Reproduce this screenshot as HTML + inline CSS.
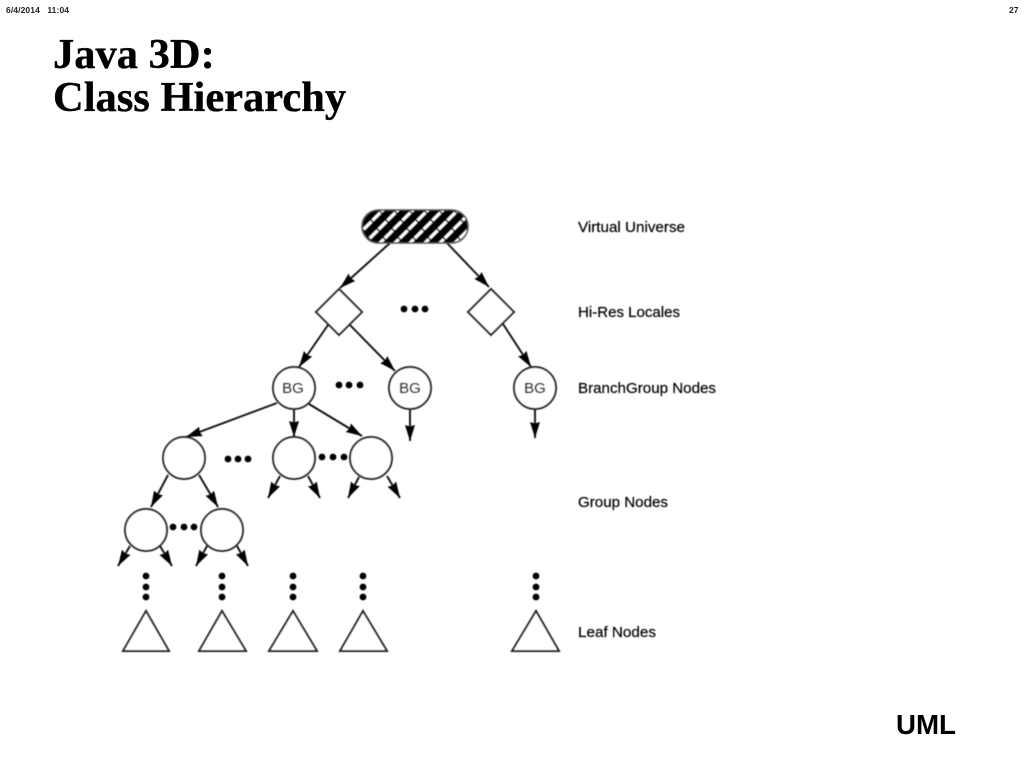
<!DOCTYPE html>
<html>
<head>
<meta charset="utf-8">
<title>Java 3D: Class Hierarchy</title>
<style>
html,body{margin:0;padding:0;background:#fff;width:1024px;height:768px;overflow:hidden}
svg{display:block}
.sans{font-family:"Liberation Sans",Arial,sans-serif}
.serif{font-family:"Liberation Serif","Times New Roman",serif}
.label{font-size:15px;fill:#000;stroke:#000;stroke-width:.2}
.bg{font-size:15px;fill:#000;stroke:#000;stroke-width:.2;text-anchor:middle}
.arrow line{stroke:#111;stroke-width:1.9;marker-end:url(#ah)}
.node{fill:#fff;stroke:#222;stroke-width:2}
.title{stroke:#000;stroke-width:.35}
#diagram{filter:url(#soft)}
</style>
</head>
<body>
<svg width="1024" height="768" viewBox="0 0 1024 768" xmlns="http://www.w3.org/2000/svg">
<defs>
<marker id="ah" markerUnits="userSpaceOnUse" markerWidth="18" markerHeight="14" refX="16" refY="5.5" orient="auto">
<path d="M0 0.5 L16 5.5 L0 10.5 L1.5 5.5 Z" fill="#000"/>
</marker>
<clipPath id="pill"><rect x="362" y="210" width="106" height="33" rx="16.5" ry="16.5"/></clipPath>
<filter id="soft" x="-5%" y="-5%" width="110%" height="110%"><feGaussianBlur stdDeviation="0.45"/></filter>
</defs>

<text class="sans" x="6" y="13" font-size="8.5" font-weight="bold" fill="#222" xml:space="preserve" textLength="63" lengthAdjust="spacing">6/4/2014   11:04</text>
<text class="sans" x="1009" y="13" font-size="8.5" font-weight="bold" fill="#222">27</text>
<text class="serif title" x="53" y="68" font-size="42.5" font-weight="bold" fill="#000">Java 3D:</text>
<text class="serif title" x="53" y="111" font-size="42.5" font-weight="bold" fill="#000">Class Hierarchy</text>
<text class="sans" x="896" y="734" font-size="27.7" font-weight="bold" fill="#000">UML</text>

<g id="diagram">
<g class="arrow">
<line x1="390" y1="243" x2="340" y2="288"/>
<line x1="447" y1="243" x2="489" y2="287"/>
<line x1="328" y1="325" x2="299" y2="367"/>
<line x1="349" y1="324" x2="395" y2="371"/>
<line x1="503" y1="324" x2="531" y2="367"/>
<line x1="277" y1="403" x2="186" y2="437"/>
<line x1="294" y1="409" x2="294" y2="437"/>
<line x1="309" y1="404" x2="362" y2="436"/>
<line x1="410" y1="409" x2="410" y2="441"/>
<line x1="535" y1="409" x2="535" y2="438"/>
<line x1="168" y1="475" x2="151" y2="507"/>
<line x1="199" y1="475" x2="218" y2="507"/>
<line x1="280" y1="476" x2="268" y2="498"/>
<line x1="308" y1="476" x2="320" y2="498"/>
<line x1="359" y1="477" x2="348" y2="498"/>
<line x1="387" y1="476" x2="400" y2="498"/>
<line x1="130" y1="546" x2="118" y2="566"/>
<line x1="160" y1="546" x2="172" y2="566"/>
<line x1="207" y1="546" x2="196" y2="566"/>
<line x1="237" y1="546" x2="248" y2="566"/>
</g>

<rect x="362" y="210" width="106" height="33" rx="16.5" ry="16.5" fill="#000"/>
<g clip-path="url(#pill)" stroke="#fff" stroke-width="3" stroke-dasharray="11 1.5">
<line x1="346" y1="247" x2="386" y2="207"/>
<line x1="361" y1="247" x2="401" y2="207"/>
<line x1="376" y1="247" x2="416" y2="207"/>
<line x1="391" y1="247" x2="431" y2="207"/>
<line x1="406" y1="247" x2="446" y2="207"/>
<line x1="421" y1="247" x2="461" y2="207"/>
<line x1="436" y1="247" x2="476" y2="207"/>
<line x1="451" y1="247" x2="491" y2="207"/>
</g>
<rect x="362" y="210" width="106" height="33" rx="16.5" ry="16.5" fill="none" stroke="#555" stroke-width="1.6"/>

<polygon class="node" points="339,289 362,312 339,335 316,312"/>
<polygon class="node" points="491,289 514,312 491,335 468,312"/>

<circle class="node" cx="294" cy="388" r="21"/>
<circle class="node" cx="410" cy="388" r="21"/>
<circle class="node" cx="535" cy="388" r="21"/>
<circle class="node" cx="184" cy="458" r="21"/>
<circle class="node" cx="294" cy="458" r="21"/>
<circle class="node" cx="371" cy="458" r="21"/>
<circle class="node" cx="146" cy="530" r="21"/>
<circle class="node" cx="222" cy="530" r="21"/>

<text class="sans bg" x="293" y="393">BG</text>
<text class="sans bg" x="410" y="393">BG</text>
<text class="sans bg" x="535" y="393">BG</text>

<g fill="#000">
<circle cx="404" cy="309" r="3.4"/><circle cx="415" cy="309" r="3.4"/><circle cx="425" cy="309" r="3.4"/>
<circle cx="339" cy="385" r="3.4"/><circle cx="349" cy="385" r="3.4"/><circle cx="360" cy="385" r="3.4"/>
<circle cx="228" cy="459" r="3.4"/><circle cx="238" cy="459" r="3.4"/><circle cx="248" cy="459" r="3.4"/>
<circle cx="322" cy="457" r="3.4"/><circle cx="333" cy="457" r="3.4"/><circle cx="344" cy="457" r="3.4"/>
<circle cx="173" cy="527" r="3.4"/><circle cx="184" cy="527" r="3.4"/><circle cx="194" cy="527" r="3.4"/>
<circle cx="146" cy="576" r="3.4"/><circle cx="146" cy="587" r="3.4"/><circle cx="146" cy="597" r="3.4"/>
<circle cx="222" cy="576" r="3.4"/><circle cx="222" cy="587" r="3.4"/><circle cx="222" cy="597" r="3.4"/>
<circle cx="293" cy="576" r="3.4"/><circle cx="293" cy="587" r="3.4"/><circle cx="293" cy="597" r="3.4"/>
<circle cx="363" cy="576" r="3.4"/><circle cx="363" cy="587" r="3.4"/><circle cx="363" cy="597" r="3.4"/>
<circle cx="536" cy="576" r="3.4"/><circle cx="536" cy="587" r="3.4"/><circle cx="536" cy="597" r="3.4"/>
</g>

<polygon class="node" points="146,611 169,651 123,651"/>
<polygon class="node" points="222,611 246,651 199,651"/>
<polygon class="node" points="293,611 317,651 269,651"/>
<polygon class="node" points="363,611 387,651 340,651"/>
<polygon class="node" points="536,611 559,651 512,651"/>

<text class="sans label" x="578" y="232" textLength="107" lengthAdjust="spacingAndGlyphs">Virtual Universe</text>
<text class="sans label" x="578" y="317" textLength="102" lengthAdjust="spacingAndGlyphs">Hi-Res Locales</text>
<text class="sans label" x="578" y="393" textLength="138" lengthAdjust="spacingAndGlyphs">BranchGroup Nodes</text>
<text class="sans label" x="578" y="507" textLength="90" lengthAdjust="spacingAndGlyphs">Group Nodes</text>
<text class="sans label" x="578" y="637" textLength="78" lengthAdjust="spacingAndGlyphs">Leaf Nodes</text>
</g>
</svg>
</body>
</html>
